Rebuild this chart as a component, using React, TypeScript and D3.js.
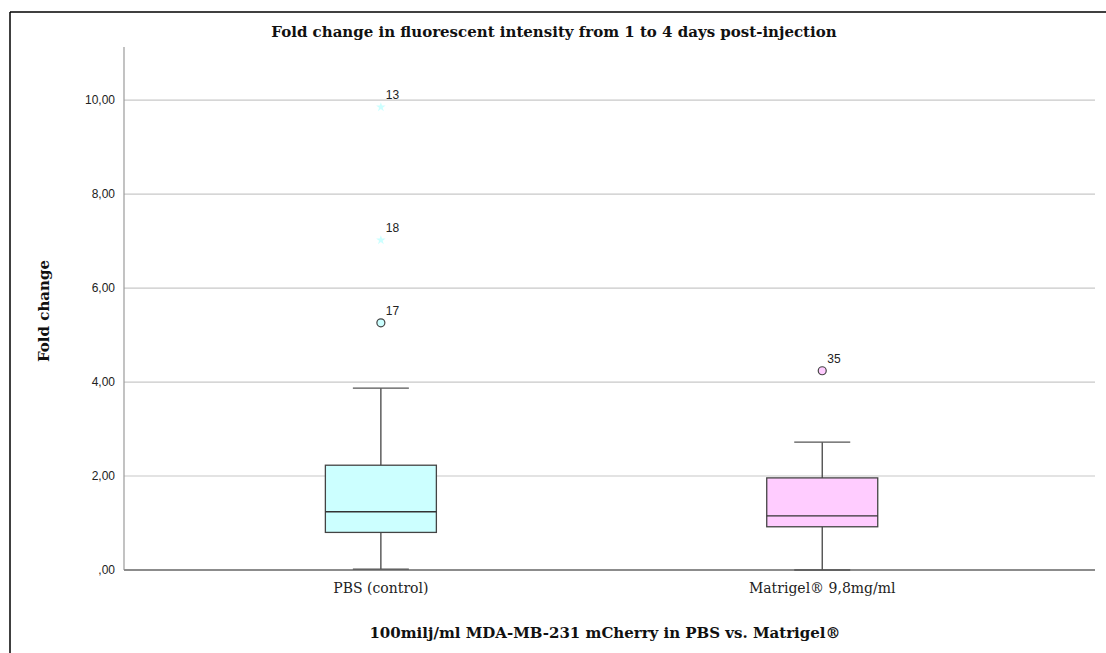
import React from "react";
import * as d3 from "d3";

const categories = ["PBS (control)", "Matrigel® 9,8mg/ml"];
const fills = ["#ccffff", "#ffccff"];
const whiskerLow = [0.02, 0.0];
const q1 = [0.8, 0.92];
const median = [1.24, 1.15];
const q3 = [2.23, 1.96];
const whiskerHigh = [3.87, 2.72];
// outliers: category index, value, case label, extreme flag
const outlierCat = [0, 0, 0, 1];
const outlierVal = [5.26, 7.02, 9.85, 4.24];
const outlierLabel = ["17", "18", "13", "35"];
const outlierExtreme = [false, true, true, false];
const yTicks = [0, 2, 4, 6, 8, 10];

const W = 1106;
const H = 653;
const left = 124;
const right = 1095;
const top = 47;
const bottom = 570;

export default function App() {
  const y = d3.scaleLinear().domain([0, 11.13]).range([bottom, top]);
  const x = d3
    .scalePoint<string>()
    .domain(categories)
    .range([left, right])
    .padding(0.6)
    .align(0.485);
  const boxW = 111;
  const capW = 56;
  const fmt = (v: number) => (v === 0 ? ",00" : v.toFixed(2).replace(".", ","));
  const star = d3.symbol().type(d3.symbolStar).size(28)() as string;

  return (
    <div style={{ position: "absolute", left: 0, top: 0 }}>
      <svg width={W} height={H} style={{ display: "block", background: "#fff" }}>
        <rect x={0} y={0} width={W} height={H} fill="#fff" />
        {/* frame */}
        <line x1={10} y1={12} x2={W} y2={12} stroke="#000" strokeWidth={1.5} />
        <line x1={10} y1={12} x2={10} y2={H} stroke="#000" strokeWidth={1.5} />

        {/* gridlines */}
        {yTicks.filter((t) => t > 0).map((t) => (
          <line key={t} x1={left} x2={right} y1={y(t)} y2={y(t)} stroke="#c8c8c8" strokeWidth={1.2} />
        ))}
        {/* axes */}
        <line x1={left} x2={left} y1={top} y2={bottom} stroke="#9a9a9a" strokeWidth={1.2} />
        <line x1={left} x2={right} y1={bottom} y2={bottom} stroke="#8c8c8c" strokeWidth={1.8} />

        {/* y tick labels */}
        {yTicks.map((t) => (
          <text
            key={t}
            x={left - 9}
            y={y(t)}
            dy="0.35em"
            textAnchor="end"
            fontFamily="Liberation Sans, Arial, sans-serif"
            fontSize={12}
            fill="#222"
          >
            {fmt(t)}
          </text>
        ))}

        {/* boxes */}
        {categories.map((c, i) => {
          const cx = x(c) as number;
          return (
            <g key={c}>
              <line x1={cx} x2={cx} y1={y(whiskerHigh[i])} y2={y(q3[i])} stroke="#444" strokeWidth={1.3} />
              <line x1={cx} x2={cx} y1={y(q1[i])} y2={y(whiskerLow[i])} stroke="#444" strokeWidth={1.3} />
              <line x1={cx - capW / 2} x2={cx + capW / 2} y1={y(whiskerHigh[i])} y2={y(whiskerHigh[i])} stroke="#555" strokeWidth={1.3} />
              <line x1={cx - capW / 2} x2={cx + capW / 2} y1={y(whiskerLow[i])} y2={y(whiskerLow[i])} stroke="#555" strokeWidth={1.3} />
              <rect
                x={cx - boxW / 2}
                y={y(q3[i])}
                width={boxW}
                height={y(q1[i]) - y(q3[i])}
                fill={fills[i]}
                stroke="#444"
                strokeWidth={1.3}
              />
              <line x1={cx - boxW / 2} x2={cx + boxW / 2} y1={y(median[i])} y2={y(median[i])} stroke="#333" strokeWidth={1.3} />
            </g>
          );
        })}

        {/* outliers */}
        {outlierVal.map((v, k) => {
          const cx = x(categories[outlierCat[k]]) as number;
          const cy = y(v);
          return (
            <g key={k}>
              {outlierExtreme[k] ? (
                <path d={star} transform={`translate(${cx},${cy})`} fill={fills[outlierCat[k]]} />
              ) : (
                <circle cx={cx} cy={cy} r={4} fill={fills[outlierCat[k]]} stroke="#444" strokeWidth={1.2} />
              )}
              <text
                x={cx + 5}
                y={cy - 8}
                fontFamily="Liberation Sans, Arial, sans-serif"
                fontSize={12}
                fill="#222"
              >
                {outlierLabel[k]}
              </text>
            </g>
          );
        })}

        {/* x labels */}
        {categories.map((c) => (
          <text
            key={c}
            x={x(c) as number}
            y={593}
            textAnchor="middle"
            fontFamily="DejaVu Serif, serif"
            fontSize={14}
            fill="#222"
          >
            {c}
          </text>
        ))}

        {/* titles */}
        <text
          x={554}
          y={37}
          textAnchor="middle"
          fontFamily="DejaVu Serif, serif"
          fontWeight="bold"
          fontSize={15}
          fill="#111"
        >
          Fold change in fluorescent intensity from 1 to 4 days post-injection
        </text>
        <text
          x={605}
          y={638}
          textAnchor="middle"
          fontFamily="DejaVu Serif, serif"
          fontWeight="bold"
          fontSize={15}
          fill="#111"
        >
          100milj/ml MDA-MB-231 mCherry in PBS vs. Matrigel®
        </text>
        <text
          transform={`translate(49,${311}) rotate(-90)`}
          textAnchor="middle"
          fontFamily="DejaVu Serif, serif"
          fontWeight="bold"
          fontSize={15}
          fill="#111"
        >
          Fold change
        </text>
      </svg>
    </div>
  );
}
